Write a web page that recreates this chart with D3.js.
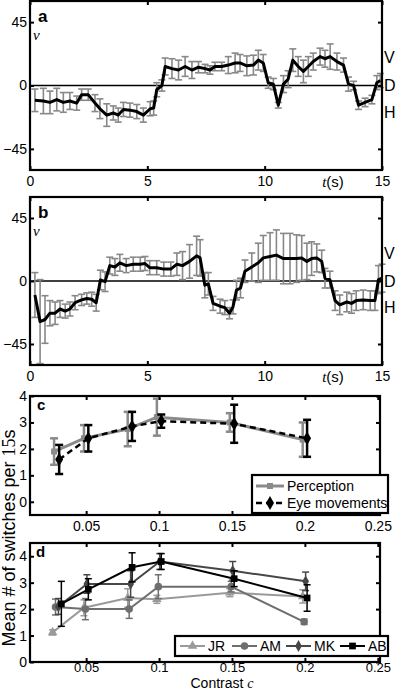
<!DOCTYPE html>
<html>
<head>
<meta charset="utf-8">
<script src="https://cdn.jsdelivr.net/npm/d3@7"></script>
<style>
  body { margin: 0; background: #fff; }
  svg { display: block; font-family: "Liberation Sans", Arial, sans-serif; }
</style>
</head>
<body>
<div id="chart"></div>
<script>
// ---- panel a : perception time course (deg), mean + sem ----
const aTime = [0.21,0.57,0.85,1.14,1.42,1.7,1.99,2.2,2.48,2.77,2.98,3.27,3.55,3.76,3.98,4.26,4.55,4.83,5.12,5.27,5.4,5.62,5.76,6.05,6.33,6.61,6.9,7.18,7.46,7.67,7.88,8.17,8.45,8.74,8.95,9.24,9.52,9.73,9.94,10.15,10.37,10.58,10.8,11.0,11.2,11.43,11.65,11.86,12.07,12.36,12.57,12.79,13.08,13.36,13.57,13.79,14.0,14.28,14.57,14.78,14.93];
const aMean = [-10.5,-11,-12,-10,-12,-11,-12.5,-6.5,-6.5,-12.5,-16.5,-21,-19.5,-21,-17,-17.5,-18.5,-21,-16.5,-16,-3,0,13.5,12,11,13.5,11,13,12,11,13.5,13.5,14.5,16,16,14,14.5,18,16,2,1,-14,1,4.5,18,13.5,10,13.5,17,20.5,19,20.5,17,14.5,1,0,-14,-12,-10,2,3.5];
const aErr  = [8,9,8,8,7,6,5,4,4,6,7,8,5,5,5,5,5,5,5,5,5,4,6,7,7,7,6,4,3,3,3,3,6,7,6,7,7,7,6,4,4,2,6,6,8,7,8,7,6,6,6,9,6,5,5,3,3,3,3,5,5];

// ---- panel b : eye movement time course ----
const bTime = [0.21,0.43,0.64,0.85,1.07,1.28,1.5,1.7,1.92,2.2,2.42,2.63,2.82,3.0,3.2,3.4,3.62,3.83,4.1,4.4,4.7,4.9,5.1,5.4,5.7,6.0,6.26,6.5,6.8,7.1,7.25,7.45,7.6,7.8,8.1,8.3,8.5,8.65,8.8,8.97,9.16,9.45,9.73,9.94,10.23,10.5,10.8,11.08,11.36,11.58,11.8,12.0,12.22,12.43,12.57,12.78,13.0,13.2,13.5,13.7,13.9,14.2,14.5,14.7,14.85,15.0];
const bMean = [-10,-29,-27.5,-23,-23,-20,-21.5,-20,-15.5,-13.5,-12.5,-13,-15.5,0.7,-0.5,11,10,13,11,12,12,12.5,9.5,9.5,8.5,8.5,12,11,14,18,16.5,-3,-2,-16,-18,-19,-23,-18.5,-6.5,-5,7,10,13,16.5,17.5,18.5,16,16,16,16.5,14,16,16.5,14,2,1,-14,-17,-15,-16,-14,-13.5,-14,-14,1,2];
const bErr  = [16,30,17,9,8,6,5,5,5,4,4,5,6,7,7,6,6,6,5,5,5,5,5,5,5,5,8,10,12,14,13,9,8,5,5,5,4,5,7,7,8,10,14,16,17,18,18,18,17,16,13,12,10,8,7,6,7,7,7,7,7,7,7,7,10,10];

const timeTicks = [0, 5, 10, 15];
const angleTicks = [-45, 0, 45];
const stateLabels = ["V", "D", "H"];
const stateValues = [20, 0, -19];

// ---- panel c : switches vs contrast ----
const percX    = [0.028, 0.0485, 0.0785, 0.0985, 0.1485, 0.1985];
const percMean = [1.9, 2.4, 2.75, 3.2, 3.0, 2.35];
const percErr  = [0.5, 0.5, 0.65, 0.7, 0.35, 0.65];
const eyeX     = [0.0315, 0.0515, 0.0815, 0.1015, 0.1515, 0.2015];
const eyeMean  = [1.6, 2.4, 2.85, 3.05, 2.95, 2.4];
const eyeErr   = [0.55, 0.5, 0.55, 0.25, 0.72, 0.7];

// ---- panel d : individual observers ----
const observers = ["JR", "AM", "MK", "AB"];
const obsX = [
  [0.027, 0.0485, 0.0785, 0.0985, 0.1485, 0.1985],
  [0.029, 0.0495, 0.0795, 0.0995, 0.1495, 0.1995],
  [0.031, 0.0505, 0.0805, 0.1005, 0.1505, 0.2005],
  [0.033, 0.0515, 0.0815, 0.1015, 0.1515, 0.2015]
];
const obsMean = [
  [1.12, 2.05, 2.42, 2.37, 2.62, 2.48],
  [2.08, 2.0, 2.0, 2.85, 2.85, 1.52],
  [2.1, 2.95, 2.95, 3.8, 3.45, 3.05],
  [2.2, 2.75, 3.58, 3.8, 3.15, 2.42]
];
const obsErr = [
  [0.1, 0.3, 0.35, 0.15, 0.15, 0.25],
  [0.3, 0.4, 0.35, 0.45, 0.2, 0.1],
  [0.3, 0.35, 0.5, 0.3, 0.35, 0.35],
  [0.85, 0.4, 0.55, 0.3, 0.3, 0.5]
];
const contrastTicks = [0.05, 0.1, 0.15, 0.2, 0.25];

const W = 396, H = 691;
const svg = d3.select("#chart").append("svg")
    .attr("width", W).attr("height", H);

// draws the box with inward ticks on all four sides
function frame(box, x, y, xt, yt, xPad, xSize) {
    const g = svg.append("g");
    const bottom = g.append("g").attr("transform", `translate(0,${box.bottom})`)
        .call(d3.axisBottom(x).tickValues(xt).tickSizeInner(-4).tickSizeOuter(0).tickPadding(xPad)
            .tickFormat(d => String(d)));
    g.append("g").attr("transform", `translate(0,${box.top})`)
        .call(d3.axisTop(x).tickValues(xt).tickSizeInner(-4).tickSizeOuter(0).tickFormat(""));
    g.append("g").attr("transform", `translate(${box.left},0)`)
        .call(d3.axisLeft(y).tickValues(yt).tickSizeInner(-4).tickSizeOuter(0).tickPadding(3)
            .tickFormat(d => String(d).replace("-", "\u2212")));
    g.append("g").attr("transform", `translate(${box.right},0)`)
        .call(d3.axisRight(y).tickValues(yt).tickSizeInner(-4).tickSizeOuter(0).tickFormat(""));
    g.selectAll(".domain").remove();
    g.selectAll(".tick line").attr("stroke", "#000").attr("stroke-width", 2);
    g.selectAll(".tick text").attr("fill", "#000").attr("font-size", 14);
    if (xSize) bottom.selectAll(".tick text").attr("font-size", xSize);
    g.append("rect")
        .attr("x", box.left).attr("y", box.top)
        .attr("width", box.right - box.left).attr("height", box.bottom - box.top)
        .attr("fill", "none").attr("stroke", "#000").attr("stroke-width", 2.2);
    return g;
}

function errorBars(g, xs, ys, es, x, y, color, width, cap) {
    xs.forEach((xv, i) => {
        const cx = x(xv), lo = y(ys[i] - es[i]), hi = y(ys[i] + es[i]);
        g.append("line").attr("x1", cx).attr("x2", cx).attr("y1", lo).attr("y2", hi)
            .attr("stroke", color).attr("stroke-width", width);
        [lo, hi].forEach(yy => g.append("line")
            .attr("x1", cx - cap).attr("x2", cx + cap).attr("y1", yy).attr("y2", yy)
            .attr("stroke", color).attr("stroke-width", width));
    });
}

function timePanel(box, times, means, errs, letter) {
    const x = d3.scaleLinear().domain([0, 15]).range([box.left, box.right]);
    const y = d3.scaleLinear().domain([-60, 60]).range([box.bottom, box.top]);
    const g = svg.append("g");

    g.append("line")
        .attr("x1", box.left).attr("x2", box.right)
        .attr("y1", y(0)).attr("y2", y(0))
        .attr("stroke", "#000").attr("stroke-width", 1.5);

    errorBars(g.append("g"), times, means, errs, x, y, "#888", 1.6, 3.5);

    g.append("path")
        .datum(times.map((t, i) => [t, means[i]]))
        .attr("fill", "none").attr("stroke", "#000").attr("stroke-width", 3)
        .attr("stroke-linejoin", "round")
        .attr("d", d3.line().x(d => x(d[0])).y(d => y(d[1])));

    const f = frame(box, x, y, timeTicks, angleTicks, 6);
    // t(s) label sits in the gap between 10 and 15
    const tl = f.append("text").attr("x", 333).attr("y", box.bottom + 17)
        .attr("text-anchor", "middle").attr("font-size", 15);
    tl.append("tspan").attr("font-family", "'Liberation Serif', 'DejaVu Serif', serif")
        .attr("font-style", "italic").text("t");
    tl.append("tspan").text("(s)");

    svg.append("text").attr("x", box.left + 8).attr("y", box.top + 21)
        .attr("font-size", 17).attr("font-weight", "bold").text(letter);
    svg.append("text").attr("x", box.left + 3).attr("y", y(32))
        .attr("font-family", "'Liberation Serif', 'DejaVu Serif', serif")
        .attr("font-style", "italic").attr("font-size", 15).text("v");
    stateLabels.forEach((s, i) => svg.append("text")
        .attr("x", box.right + 2).attr("y", y(stateValues[i]))
        .attr("dy", "0.36em").attr("font-size", 16).text(s));
}

timePanel({left: 30, right: 382, top: 1, bottom: 170}, aTime, aMean, aErr, "a");
timePanel({left: 30, right: 382, top: 197, bottom: 365}, bTime, bMean, bErr, "b");

// ---- panel c ----
{
    const box = {left: 30, right: 380, top: 396, bottom: 515};
    const x = d3.scaleLinear().domain([0.0115, 0.2515]).range([box.left, box.right]);
    const y = d3.scaleLinear().domain([-0.5, 4]).range([box.bottom, box.top]);
    const g = svg.append("g");

    errorBars(g, percX, percMean, percErr, x, y, "#8a8a8a", 2.5, 4);
    g.append("path").datum(percX.map((v, i) => [v, percMean[i]]))
        .attr("fill", "none").attr("stroke", "#8a8a8a").attr("stroke-width", 3)
        .attr("d", d3.line().x(d => x(d[0])).y(d => y(d[1])));
    g.selectAll(".pm").data(percX).join("rect")
        .attr("x", (d) => x(d) - 3).attr("y", (d, i) => y(percMean[i]) - 3)
        .attr("width", 6).attr("height", 6).attr("fill", "#8a8a8a");

    errorBars(g, eyeX, eyeMean, eyeErr, x, y, "#000", 2.5, 4);
    g.append("path").datum(eyeX.map((v, i) => [v, eyeMean[i]]))
        .attr("fill", "none").attr("stroke", "#000").attr("stroke-width", 2.5)
        .attr("stroke-dasharray", "6,4")
        .attr("d", d3.line().x(d => x(d[0])).y(d => y(d[1])));
    g.selectAll(".em").data(eyeX).join("path")
        .attr("transform", (d, i) => `translate(${x(d)},${y(eyeMean[i])})`)
        .attr("d", d3.symbol(d3.symbolDiamond, 55)).attr("fill", "#000");

    frame(box, x, y, contrastTicks, [0, 1, 2, 3, 4], 6);
    svg.append("text").attr("x", 37).attr("y", 410)
        .attr("font-size", 15).attr("font-weight", "bold").text("c");

    // legend
    const lg = svg.append("g");
    lg.append("rect").attr("x", 252).attr("y", 475).attr("width", 136).attr("height", 38)
        .attr("fill", "#fff").attr("stroke", "#000").attr("stroke-width", 2.2);
    lg.append("line").attr("x1", 256).attr("x2", 284).attr("y1", 486).attr("y2", 486)
        .attr("stroke", "#8a8a8a").attr("stroke-width", 3);
    lg.append("rect").attr("x", 267).attr("y", 483).attr("width", 6).attr("height", 6).attr("fill", "#8a8a8a");
    lg.append("text").attr("x", 287).attr("y", 491).attr("font-size", 14).text("Perception");
    lg.append("line").attr("x1", 256).attr("x2", 284).attr("y1", 503).attr("y2", 503)
        .attr("stroke", "#000").attr("stroke-width", 2.5).attr("stroke-dasharray", "6,4");
    lg.append("path").attr("transform", "translate(270,503)")
        .attr("d", d3.symbol(d3.symbolDiamond, 55)).attr("fill", "#000");
    lg.append("text").attr("x", 287).attr("y", 508).attr("font-size", 14).text("Eye movements");
}

// ---- panel d ----
{
    const box = {left: 30, right: 380, top: 543, bottom: 662};
    const x = d3.scaleLinear().domain([0.0115, 0.2515]).range([box.left, box.right]);
    const y = d3.scaleLinear().domain([0, 4.5]).range([box.bottom, box.top]);
    const colors = ["#9a9a9a", "#6e6e6e", "#474747", "#000"];
    const symbols = [d3.symbolTriangle, d3.symbolCircle, d3.symbolDiamond, d3.symbolSquare];
    const sizes = [40, 45, 40, 45];
    const g = svg.append("g");

    observers.forEach((name, k) => {
        errorBars(g, obsX[k], obsMean[k], obsErr[k], x, y, colors[k], 1.5, 3.5);
        g.append("path").datum(obsX[k].map((v, i) => [v, obsMean[k][i]]))
            .attr("fill", "none").attr("stroke", colors[k]).attr("stroke-width", 2)
            .attr("d", d3.line().x(d => x(d[0])).y(d => y(d[1])));
        g.selectAll(null).data(obsX[k]).join("path")
            .attr("transform", (d, i) => `translate(${x(d)},${y(obsMean[k][i])})`)
            .attr("d", d3.symbol(symbols[k], sizes[k])).attr("fill", colors[k]);
    });

    frame(box, x, y, contrastTicks, [0, 1, 2, 3, 4], 1, 13);
    svg.append("text").attr("x", 36).attr("y", 557)
        .attr("font-size", 15).attr("font-weight", "bold").text("d");

    const lg = svg.append("g");
    lg.append("rect").attr("x", 175).attr("y", 636).attr("width", 213).attr("height", 20)
        .attr("fill", "#fff").attr("stroke", "#000").attr("stroke-width", 2.2);
    const lx = [180, 232, 286, 340];
    observers.forEach((name, k) => {
        lg.append("line").attr("x1", lx[k]).attr("x2", lx[k] + 25).attr("y1", 646).attr("y2", 646)
            .attr("stroke", colors[k]).attr("stroke-width", 2);
        lg.append("path").attr("transform", `translate(${lx[k] + 12.5},646)`)
            .attr("d", d3.symbol(symbols[k], sizes[k])).attr("fill", colors[k]);
        lg.append("text").attr("x", lx[k] + 28).attr("y", 651).attr("font-size", 14).text(name);
    });

    const xl = svg.append("text").attr("x", 222).attr("y", 688)
        .attr("text-anchor", "middle").attr("font-size", 14);
    xl.append("tspan").text("Contrast ");
    xl.append("tspan").attr("font-family", "'Liberation Serif', 'DejaVu Serif', serif")
        .attr("font-style", "italic").text("c");
}

// shared y label for c and d
{
    const yl = svg.append("text")
        .attr("transform", "translate(15,538) rotate(-90)")
        .attr("text-anchor", "middle").attr("font-size", 18);
    yl.append("tspan").text("Mean # of switches per ");
    yl.append("tspan").attr("font-family", "'Liberation Serif', 'DejaVu Serif', serif").text("15");
    yl.append("tspan").text("s");
}
</script>
</body>
</html>
